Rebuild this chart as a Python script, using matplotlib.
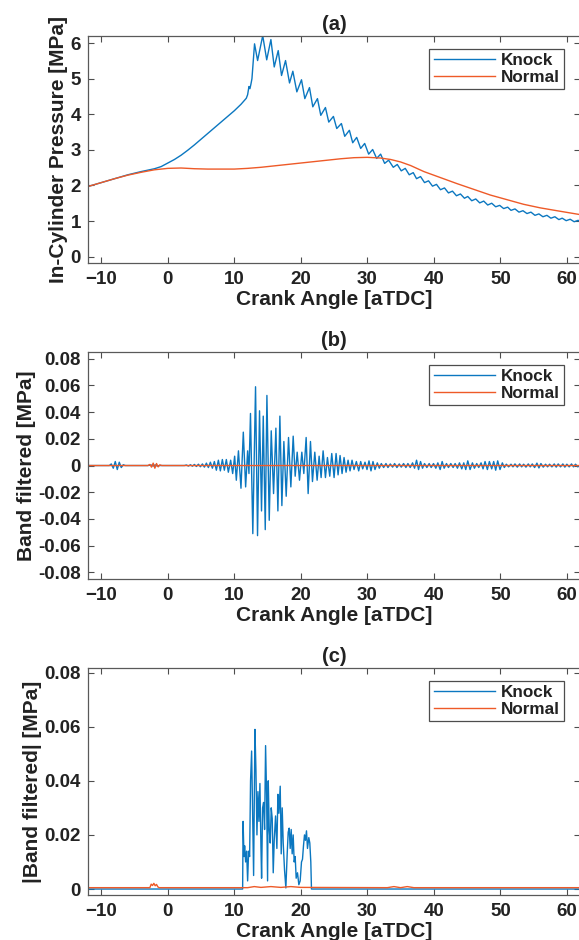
import numpy as np
import matplotlib
matplotlib.use('Agg')
import matplotlib.pyplot as plt
from matplotlib.ticker import FuncFormatter

plt.rcParams['font.family'] = ['Liberation Sans', 'DejaVu Sans']
plt.rcParams['font.weight'] = 'bold'
plt.rcParams['axes.labelweight'] = 'bold'
plt.rcParams['axes.titleweight'] = 'bold'

BLUE = '#0B77C0'
ORANGE = '#EE5A28'

# ---- (a) in-cylinder pressure [MPa] vs crank angle, (angle, value) pairs
normal_pressure = [
    (-12, 1.97), (-10, 2.08), (-8, 2.19), (-6, 2.29), (-4, 2.37), (-2, 2.44), (0, 2.48),
    (2, 2.49), (4, 2.47), (6, 2.46), (8, 2.46), (10, 2.46), (12, 2.48), (14, 2.51),
    (16, 2.55), (18, 2.59), (20, 2.63), (22, 2.67), (24, 2.71), (26, 2.75), (28, 2.78),
    (30, 2.79), (32, 2.77), (33.5, 2.73), (35, 2.66), (36.5, 2.56), (38.5, 2.39),
    (41, 2.22), (43.5, 2.05), (46, 1.89), (48.5, 1.73), (51, 1.60), (53.5, 1.47),
    (56, 1.37), (58.5, 1.29), (62, 1.18),
]

knock_pressure = [
    (-12, 1.97), (-10, 2.08), (-8, 2.19), (-6, 2.30), (-4, 2.39), (-2, 2.47), (-1, 2.53),
    (0, 2.63), (1, 2.73), (2, 2.85), (3, 2.99), (4, 3.14), (5, 3.30), (6, 3.46), (7, 3.62),
    (8, 3.78), (9, 3.94), (10, 4.10), (11, 4.28), (11.8, 4.45), (12.0, 4.55), (12.2, 4.78),
    (12.35, 4.72), (12.5, 4.85), (12.65, 5.00), (13.04, 5.98), (13.5, 5.51), (14.27, 6.21),
    (14.87, 5.53), (15.5, 6.10), (16.0, 5.33), (16.6, 5.79), (17.1, 5.09), (17.7, 5.51),
    (18.3, 4.88), (18.8, 5.21), (19.4, 4.63), (20.1, 4.97), (20.6, 4.44), (21.3, 4.75),
    (21.8, 4.21), (22.5, 4.44), (23.0, 3.97), (23.7, 4.19), (24.2, 3.78), (24.9, 3.94),
    (25.4, 3.60), (26.1, 3.74), (26.6, 3.38), (27.3, 3.55), (27.8, 3.20), (28.4, 3.35),
    (29.0, 3.04), (29.6, 3.18), (30.2, 2.88), (30.8, 3.01), (31.4, 2.76), (32.0, 2.88),
    (32.6, 2.62), (33.2, 2.71), (33.9, 2.51), (34.5, 2.59), (35.1, 2.41), (35.7, 2.48),
    (36.3, 2.30), (36.9, 2.36), (37.4, 2.19), (38.0, 2.25), (38.6, 2.08), (39.2, 2.13),
    (39.8, 1.98), (40.4, 2.03), (41.0, 1.88), (41.6, 1.93), (42.2, 1.79), (42.8, 1.84),
    (43.4, 1.71), (44.0, 1.76), (44.6, 1.64), (45.1, 1.69), (45.7, 1.57), (46.3, 1.62),
    (46.9, 1.51), (47.5, 1.56), (48.1, 1.45), (48.7, 1.50), (49.3, 1.40), (49.9, 1.44),
    (50.5, 1.35), (51.1, 1.39), (51.6, 1.30), (52.2, 1.34), (52.8, 1.25), (53.4, 1.29),
    (54.0, 1.21), (54.6, 1.25), (55.2, 1.16), (55.8, 1.20), (56.4, 1.12), (57.0, 1.16),
    (57.6, 1.08), (58.2, 1.12), (58.8, 1.04), (59.3, 1.08), (59.9, 1.01), (60.5, 1.05),
    (61.1, 0.98), (61.7, 1.02), (62.0, 0.98),
]

# ---- (b) band filtered pressure [MPa]
knock_band = [
    (-12, 0), (-8.8, 0), (-8.5, 0.0012), (-8.2, -0.002), (-7.9, 0.003), (-7.6, -0.003),
    (-7.3, 0.0025), (-7.0, -0.0015), (-6.7, 0.0006), (-6.4, 0), (-3, 0), (-2.5, 0.0004),
    (-2.2, -0.0004), (-1.9, 0.0005), (-1.6, -0.0004), (-1.3, 0), (2.5, 0), (2.8, 0.0004),
    (3.1, -0.0004), (3.4, 0.0006), (3.7, -0.0005), (4.0, 0.0008), (4.3, -0.0007),
    (4.6, 0.001), (4.9, -0.0009), (5.2, 0.0012), (5.5, -0.0012), (5.8, 0.0018),
    (6.1, -0.0015), (6.4, 0.0025), (6.7, -0.002), (7.0, 0.003), (7.3, -0.0035),
    (7.6, 0.004), (7.9, -0.004), (8.2, 0.0045), (8.5, -0.0035), (8.8, 0.0045),
    (9.1, -0.005), (9.45, 0.004), (9.75, -0.006), (10.05, 0.007), (10.3, -0.011),
    (10.62, 0.011), (11.0, -0.017), (11.35, 0.025), (11.7, -0.016), (12.0, 0.011),
    (12.2, -0.006), (12.43, 0.039), (12.78, -0.051), (13.19, 0.059), (13.49, -0.0525),
    (13.79, 0.041), (14.09, -0.034), (14.35, 0.037), (14.65, -0.048), (14.9, 0.0525),
    (15.25, -0.041), (15.55, 0.026), (15.9, -0.021), (16.25, 0.028), (16.55, -0.034),
    (16.85, 0.037), (17.15, -0.030), (17.45, 0.018), (17.8, -0.023), (18.15, 0.021),
    (18.5, -0.016), (18.85, 0.022), (19.15, -0.008), (19.45, 0.010), (19.8, -0.011),
    (20.15, 0.010), (20.45, -0.006), (20.8, 0.021), (21.1, -0.021), (21.45, 0.018),
    (21.75, -0.012), (22.1, 0.010), (22.45, -0.011), (22.75, 0.007), (23.05, -0.009),
    (23.35, 0.011), (23.7, -0.009), (24.0, 0.006), (24.35, -0.008), (24.65, 0.009),
    (25.0, -0.009), (25.3, 0.009), (25.6, -0.007), (25.9, 0.0075), (26.2, -0.006),
    (26.5, 0.006), (26.8, -0.005), (27.1, 0.004), (27.4, -0.004), (27.7, 0.004),
    (28.0, -0.003), (28.35, 0.003), (28.7, -0.004), (29.0, 0.003), (29.3, -0.0025),
    (29.65, 0.0025), (29.95, -0.003), (30.25, 0.0035), (30.55, -0.004), (30.85, 0.003),
    (31.15, -0.003), (31.5, 0.002), (31.8, -0.002), (32.1, 0.0015), (32.45, -0.0015),
    (32.8, 0.0015), (33.1, -0.0015), (33.45, 0.0012), (33.8, -0.0012), (34.1, 0.0015),
    (34.45, -0.0015), (34.8, 0.0012), (35.1, -0.0012), (35.45, 0.0015), (35.8, -0.0015),
    (36.1, 0.0015), (36.45, -0.0015), (36.8, 0.002), (37.1, -0.002), (37.4, 0.004),
    (37.7, -0.003), (38.0, 0.003), (38.3, -0.002), (38.6, 0.0015), (38.95, -0.0015),
    (39.3, 0.0015), (39.6, -0.0015), (39.95, 0.0015), (40.3, -0.002), (40.6, 0.002),
    (40.95, -0.003), (41.25, 0.003), (41.55, -0.002), (41.9, 0.0015), (42.2, -0.0015),
    (42.55, 0.0015), (42.9, -0.0015), (43.2, 0.0015), (43.55, -0.002), (43.85, 0.002),
    (44.2, -0.0025), (44.5, 0.002), (44.8, -0.003), (45.1, 0.0035), (45.45, -0.003),
    (45.8, 0.002), (46.1, -0.002), (46.45, 0.0015), (46.75, -0.0015), (47.1, 0.002),
    (47.4, -0.0025), (47.7, 0.003), (48.05, -0.003), (48.35, 0.003), (48.7, -0.0025),
    (49.0, 0.003), (49.3, -0.0035), (49.6, 0.0035), (49.95, -0.003), (50.3, 0.002),
    (50.6, -0.0015), (50.9, 0.001), (51.25, -0.001), (51.6, 0.001), (51.9, -0.001),
    (52.2, 0.0012), (52.55, -0.0012), (52.9, 0.0012), (53.2, -0.001), (53.5, 0.001),
    (53.85, -0.0012), (54.2, 0.0012), (54.5, -0.001), (54.8, 0.0012), (55.15, -0.0015),
    (55.5, 0.0018), (55.8, -0.0018), (56.1, 0.0015), (56.45, -0.0012), (56.8, 0.001),
    (57.1, -0.001), (57.4, 0.001), (57.75, -0.001), (58.1, 0.0012), (58.4, -0.0012),
    (58.7, 0.0012), (59.05, -0.001), (59.4, 0.0012), (59.7, -0.0012), (60.0, 0.001),
    (60.35, -0.001), (60.7, 0.0012), (61.0, -0.001), (61.3, 0.001), (61.65, -0.001),
    (62.0, 0.0005),
]

normal_band = [
    (-12, 0), (-3.0, 0), (-2.7, 0.0008), (-2.45, -0.0012), (-2.2, 0.0018), (-1.95, -0.002),
    (-1.7, 0.0015), (-1.45, -0.001), (-1.2, 0.0005), (-0.9, 0), (62, 0),
]

# ---- (c) |band filtered| [MPa], knock window only
knock_abs = [
    (-12, 0), (11.25, 0), (11.32, 0.025), (11.45, 0.012), (11.55, 0.016), (11.7, 0.010),
    (11.85, 0.014), (12.0, 0.003), (12.15, 0.014), (12.3, 0.012), (12.44, 0.040),
    (12.6, 0.051), (12.72, 0.033), (12.9, 0.005), (13.1, 0.059), (13.25, 0.044),
    (13.4, 0.020), (13.55, 0.036), (13.7, 0.025), (13.85, 0.039), (14.0, 0.016),
    (14.1, 0.004), (14.25, 0.030), (14.4, 0.032), (14.55, 0.022), (14.7, 0.053),
    (14.85, 0.035), (15.0, 0.003), (15.1, 0.040), (15.25, 0.022), (15.4, 0.017),
    (15.55, 0.030), (15.7, 0.026), (15.85, 0.006), (16.0, 0.018), (16.2, 0.027),
    (16.4, 0.015), (16.55, 0.035), (16.7, 0.028), (16.9, 0.038), (17.05, 0.013),
    (17.2, 0.030), (17.35, 0.017), (17.55, 0.007), (17.75, 0.0004), (17.95, 0.013),
    (18.1, 0.021), (18.25, 0.0225), (18.4, 0.015), (18.55, 0.022), (18.7, 0.013),
    (18.85, 0.020), (19.0, 0.010), (19.15, 0.012), (19.3, 0.004), (19.5, 0.006),
    (19.7, 0.0016), (19.9, 0.003), (20.1, 0.010), (20.25, 0.011), (20.4, 0.016),
    (20.55, 0.020), (20.7, 0.018), (20.85, 0.0215), (21.0, 0.015), (21.2, 0.019),
    (21.35, 0.017), (21.5, 0.010), (21.6, 0.0), (62, 0),
]

normal_abs = [
    (-12, 0.0005), (-2.7, 0.0005), (-2.5, 0.0018), (-2.3, 0.0013), (-2.1, 0.0021),
    (-1.9, 0.0012), (-1.7, 0.0017), (-1.5, 0.0008), (-1.3, 0.0005), (12, 0.0005),
    (13, 0.0009), (14, 0.0006), (15.5, 0.0009), (17, 0.0006), (18.5, 0.0009), (20, 0.0006),
    (33, 0.0005), (34, 0.0009), (35, 0.0005), (36, 0.0009), (37, 0.0005), (62, 0.0005),
]

panels = [
    ('(a)', 'In-Cylinder Pressure [MPa]', knock_pressure, normal_pressure,
     (-0.18, 6.2), [0, 1, 2, 3, 4, 5, 6], 0.7202),
    ('(b)', 'Band filtered [MPa]', knock_band, normal_band,
     (-0.085, 0.085), [-0.08, -0.06, -0.04, -0.02, 0, 0.02, 0.04, 0.06, 0.08], 0.3840),
    ('(c)', '|Band filtered| [MPa]', knock_abs, normal_abs,
     (-0.0022, 0.0817), [0, 0.02, 0.04, 0.06, 0.08], 0.0479),
]

fig = plt.figure(figsize=(5.79, 9.4), dpi=100)

for title, ylabel, knock, normal, ylim, yticks, bottom in panels:
    ax = fig.add_axes([0.152, bottom, 0.85, 0.2415])
    kx, ky = zip(*knock)
    nx, ny = zip(*normal)
    ax.plot(kx, ky, color=BLUE, lw=1.0, label='Knock')
    ax.plot(nx, ny, color=ORANGE, lw=1.0, label='Normal')
    ax.set_xlim(-12, 62)
    ax.set_ylim(*ylim)
    ax.set_xticks(np.arange(-10, 61, 10))
    ax.set_yticks(yticks)
    ax.yaxis.set_major_formatter(FuncFormatter(lambda v, p: '%g' % round(v, 4)))
    ax.tick_params(direction='in', top=True, right=True, length=4, width=0.8,
                   color='0.3', labelsize=13.5, labelcolor='#222222')
    ax.tick_params(axis='x', pad=6)
    ax.tick_params(axis='y', pad=5)
    for s in ax.spines.values():
        s.set_color('0.35')
        s.set_linewidth(0.9)
    ax.set_title(title, fontsize=14.5, pad=4, color='#222222')
    ax.set_xlabel('Crank Angle [aTDC]', fontsize=15, labelpad=1, color='#222222')
    ax.set_ylabel(ylabel, fontsize=15, labelpad=2, color='#222222')
    leg = ax.legend(loc='upper right', bbox_to_anchor=(0.968, 0.942), fontsize=12.3,
                    handlelength=3.6, handletextpad=0.35, borderpad=0.25,
                    labelspacing=0.1, fancybox=False, framealpha=1,
                    borderaxespad=0)
    leg.get_frame().set_edgecolor('0.3')
    leg.get_frame().set_linewidth(0.9)
    for t in leg.get_texts():
        t.set_color('#222222')

fig.savefig('out.png', dpi=100)
